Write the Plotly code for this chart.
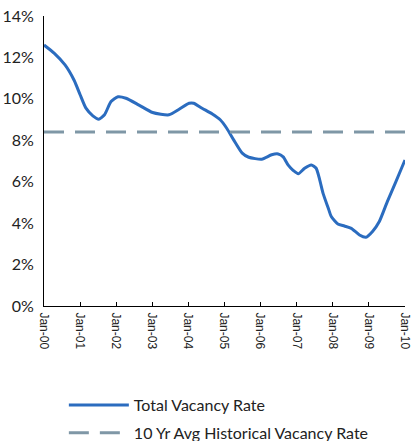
import plotly.graph_objects as go

# Total vacancy rate (%)
dates = [
    "2000-01-01", "2000-04-15", "2000-08-01", "2000-11-01", "2001-01-01",
    "2001-03-01", "2001-05-10", "2001-07-10", "2001-09-05", "2001-11-10",
    "2002-01-20", "2002-04-10", "2002-08-20", "2003-01-05", "2003-06-20",
    "2003-10-01", "2004-01-10", "2004-02-25", "2004-05-20", "2004-09-01",
    "2004-11-20", "2005-01-25", "2005-04-05", "2005-07-01", "2005-09-05",
    "2006-01-15", "2006-04-25", "2006-06-30", "2006-08-20", "2006-10-10",
    "2006-12-01", "2007-01-20", "2007-03-25", "2007-06-01", "2007-07-20",
    "2007-08-25", "2007-09-28", "2007-11-20", "2007-12-20", "2008-02-25",
    "2008-05-01", "2008-07-10", "2008-10-01", "2008-12-05", "2009-02-10",
    "2009-04-20", "2009-07-10", "2009-10-05", "2010-01-05",
]
vacancy = [
    12.6, 12.2, 11.64, 10.9, 10.2,
    9.55, 9.18, 9.02, 9.23, 9.87,
    10.1, 10.03, 9.7, 9.34, 9.23,
    9.5, 9.79, 9.79, 9.55, 9.27,
    8.99, 8.58, 8.02, 7.38, 7.18,
    7.09, 7.3, 7.34, 7.2, 6.8,
    6.54, 6.38, 6.65, 6.81, 6.65,
    6.09, 5.44, 4.72, 4.32, 3.96,
    3.86, 3.75, 3.43, 3.32, 3.6,
    4.08, 5.04, 6.0, 7.05,
]

avg_dates = ["2000-01-01", "2010-01-05"]
avg_rate = [8.4, 8.4]

tick_dates = [f"20{y:02d}-01-01" for y in range(0, 11)]
tick_labels = [f"Jan-{y:02d}" for y in range(0, 11)]

BLUE = "#2B6CBF"
GREY = "#7F97A6"

fig = go.Figure()
fig.add_trace(
    go.Scatter(
        x=dates,
        y=vacancy,
        mode="lines",
        line=dict(color=BLUE, width=3, shape="spline", smoothing=0.6),
        name="Total Vacancy Rate",
        legendgroup="total",
    )
)
fig.add_trace(
    go.Scatter(
        x=avg_dates,
        y=avg_rate,
        mode="lines",
        line=dict(color=GREY, width=3, dash="20px,11px"),
        name="10 Yr Avg Historical Vacancy Rate",
        legendgroup="avg",
    )
)

fig.update_layout(
    width=411,
    height=441,
    margin=dict(l=44, r=6, t=16, b=135, autoexpand=False),
    paper_bgcolor="white",
    plot_bgcolor="white",
    font=dict(family="Lato, Noto Sans, sans-serif", size=16, color="#222222"),
    legend=dict(
        x=0.055,
        y=-0.283,
        xanchor="left",
        yanchor="top",
        font=dict(size=16),
        itemwidth=60,
        tracegroupgap=4,
    ),
)
fig.update_xaxes(
    type="date",
    range=["2000-01-01", "2010-01-05"],
    tickvals=tick_dates,
    ticktext=tick_labels,
    tickangle=90,
    tickfont=dict(family="Liberation Sans, Arial, sans-serif", size=12),
    ticklabelstandoff=3,
    ticklabeloverflow="allow",
    ticks="inside",
    ticklen=4,
    tickcolor="black",
    showline=True,
    linecolor="black",
    linewidth=1,
    showgrid=False,
    zeroline=False,
    automargin=False,
)
fig.update_yaxes(
    range=[0, 14],
    dtick=2,
    ticksuffix="%",
    ticklabelstandoff=6,
    ticklabeloverflow="allow",
    showline=True,
    linecolor="black",
    linewidth=1,
    showgrid=False,
    zeroline=False,
    automargin=False,
)

# drop the default 8px body margin so the figure sits at the page corner
fig.write_html(
    "out.html",
    config={"displayModeBar": False},
    post_script="document.body.style.margin = '0';",
)
